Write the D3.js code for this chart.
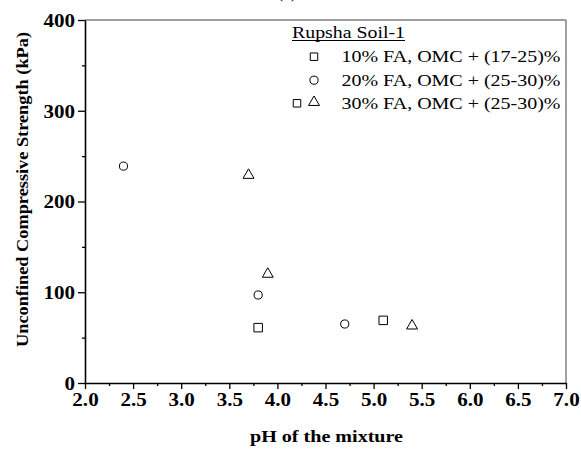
<!DOCTYPE html>
<html lang="en">
<head>
    <meta charset="UTF-8">
    <title>UCS vs pH</title>
    <script src="https://d3js.org/d3.v7.min.js"></script>
    <style>
        body {
            margin: 0;
            padding: 0;
            background-color: #fff;
        }
        svg {
            display: block;
            font-family: "Liberation Serif", "Times New Roman", serif;
        }
    </style>
</head>
<body>
    <svg id="chart" width="581" height="451"></svg>

    <script>
        // data
        const phFA10 = [3.8, 5.1];
        const ucsFA10 = [61, 69];
        const phFA20 = [2.4, 3.8, 4.7];
        const ucsFA20 = [239, 97, 65];
        const phFA30 = [3.7, 3.9, 5.4];
        const ucsFA30 = [229, 120, 63];

        const xTicks = [2.0, 2.5, 3.0, 3.5, 4.0, 4.5, 5.0, 5.5, 6.0, 6.5, 7.0];
        const yTicks = [0, 100, 200, 300, 400];
        const legendTitle = "Rupsha Soil-1";
        const legendLabels = ["10% FA, OMC + (17-25)%", "20% FA, OMC + (25-30)%", "30% FA, OMC + (25-30)%"];

        const svg = d3.select("#chart");
        const margin = {top: 20, right: 15, bottom: 68, left: 85};
        const width = 581 - margin.left - margin.right;
        const height = 451 - margin.top - margin.bottom;
        const sx = 1.17; // the original figure is a bit wide

        const x = d3.scaleLinear().domain([2, 7]).range([margin.left, margin.left + width]);
        const y = d3.scaleLinear().domain([0, 400]).range([margin.top + height, margin.top]);

        // cut-off panel title
        svg.append("text")
            .attr("x", 287).attr("y", -2)
            .attr("text-anchor", "middle")
            .style("font-size", "17px")
            .text("(a)");

        // frame (top / right)
        svg.append("line")
            .attr("x1", margin.left).attr("x2", margin.left + width)
            .attr("y1", margin.top).attr("y2", margin.top)
            .attr("stroke", "#808080").attr("stroke-width", 1.5);
        svg.append("line")
            .attr("x1", margin.left + width).attr("x2", margin.left + width)
            .attr("y1", margin.top).attr("y2", margin.top + height)
            .attr("stroke", "#808080").attr("stroke-width", 1.5);

        // minor ticks
        const xMinor = d3.range(2.25, 7, 0.5);
        const yMinor = d3.range(50, 400, 100);
        svg.append("g")
            .attr("transform", `translate(0,${margin.top + height})`)
            .call(d3.axisBottom(x).tickValues(xMinor).tickSize(3).tickFormat(""))
            .call(g => g.select(".domain").remove());
        svg.append("g")
            .attr("transform", `translate(${margin.left},0)`)
            .call(d3.axisLeft(y).tickValues(yMinor).tickSize(3).tickFormat(""))
            .call(g => g.select(".domain").remove());

        // major axes
        const xAxis = svg.append("g")
            .attr("transform", `translate(0,${margin.top + height})`)
            .call(d3.axisBottom(x).tickValues(xTicks).tickSize(6).tickSizeOuter(0).tickFormat(d3.format(".1f")));
        const yAxis = svg.append("g")
            .attr("transform", `translate(${margin.left},0)`)
            .call(d3.axisLeft(y).tickValues(yTicks).tickSize(7).tickSizeOuter(0));

        svg.selectAll(".tick line").attr("stroke", "#000").attr("stroke-width", 1.3);
        [xAxis, yAxis].forEach(a => {
            a.select(".domain").attr("stroke", "#000").attr("stroke-width", 1.6);
            a.selectAll("text")
                .attr("fill", "#000")
                .attr("transform", `scale(${sx},1)`)
                .style("font-family", "Liberation Serif, serif")
                .style("font-size", "18px")
                .style("font-weight", "bold");
        });
        xAxis.selectAll("text").attr("y", 10);
        yAxis.selectAll("text").attr("x", -10 / sx).attr("dy", "0.35em");

        // axis titles
        svg.append("text")
            .attr("x", 250).attr("y", 442)
            .attr("textLength", 153).attr("lengthAdjust", "spacingAndGlyphs")
            .style("font-size", "17px").style("font-weight", "bold")
            .text("pH of the mixture");
        svg.append("text")
            .attr("transform", "translate(28,347) rotate(-90)")
            .attr("textLength", 315).attr("lengthAdjust", "spacingAndGlyphs")
            .style("font-size", "17px").style("font-weight", "bold")
            .text("Unconfined Compressive Strength (kPa)");

        // markers
        const sq = d3.symbol().type(d3.symbolSquare).size(72);
        const ci = d3.symbol().type(d3.symbolCircle).size(52);
        const tr = d3.symbol().type(d3.symbolTriangle).size(52);

        const series = [
            {px: phFA10, py: ucsFA10, sym: sq},
            {px: phFA20, py: ucsFA20, sym: ci},
            {px: phFA30, py: ucsFA30, sym: tr}
        ];
        series.forEach(s => {
            svg.append("g").selectAll("path")
                .data(d3.zip(s.px, s.py))
                .enter()
                .append("path")
                .attr("d", s.sym)
                .attr("transform", d => `translate(${x(d[0])},${y(d[1])})`)
                .attr("fill", "none")
                .attr("stroke", "#000")
                .attr("stroke-width", 1);
        });

        // legend
        const lg = svg.append("g");
        lg.append("text")
            .attr("x", 292).attr("y", 38)
            .attr("textLength", 113).attr("lengthAdjust", "spacingAndGlyphs")
            .style("font-size", "16px")
            .text(legendTitle);
        lg.append("line")
            .attr("x1", 292).attr("x2", 292 + 113)
            .attr("y1", 40.5).attr("y2", 40.5)
            .attr("stroke", "#000").attr("stroke-width", 1);

        const sqSmall = d3.symbol().type(d3.symbolSquare).size(56);
        const rowY = [56.7, 80.2, 103.3];
        const legendSyms = [[sqSmall, 314], [ci, 314], [sqSmall, 297], [tr, 314]];
        const legendRows = [0, 1, 2, 2];
        legendSyms.forEach((s, i) => {
            lg.append("path")
                .attr("d", s[0])
                .attr("transform", `translate(${s[1]},${rowY[legendRows[i]] - (s[0] === tr ? 1 : 0)})`)
                .attr("fill", "none").attr("stroke", "#000").attr("stroke-width", 1);
        });
        legendLabels.forEach((t, i) => {
            lg.append("text")
                .attr("x", 341.5).attr("y", rowY[i] + 5.5)
                .attr("textLength", 219).attr("lengthAdjust", "spacingAndGlyphs")
                .style("font-size", "16.5px")
                .text(t);
        });
    </script>
</body>
</html>
